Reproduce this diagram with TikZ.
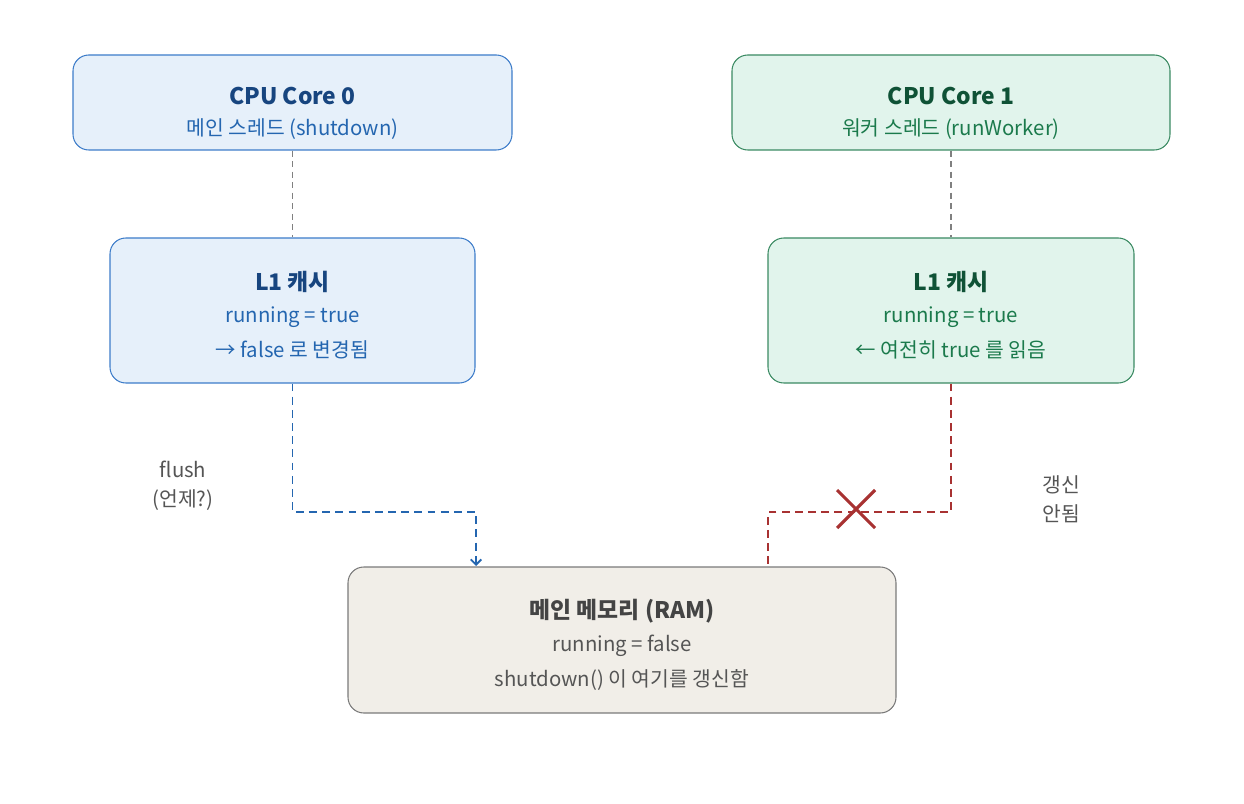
\documentclass[tikz,border=0pt]{standalone}
\usepackage{fontspec}
\setmainfont{Noto Sans CJK KR}
\usepackage{tikz}
\usetikzlibrary{arrows.meta, positioning}
\definecolor{bluefill}{HTML}{E6F0FA}
\definecolor{blueline}{HTML}{3D7CC9}
\definecolor{bluetitle}{HTML}{17457F}
\definecolor{bluetext}{HTML}{2466B0}
\definecolor{greenfill}{HTML}{E1F4EC}
\definecolor{greenline}{HTML}{3A8A62}
\definecolor{greentitle}{HTML}{0F5236}
\definecolor{greentext}{HTML}{1B7A4C}
\definecolor{ramfill}{HTML}{F1EEE8}
\definecolor{ramline}{HTML}{7A7A7A}
\definecolor{ramtitle}{HTML}{444444}
\definecolor{ramtext}{HTML}{555555}
\definecolor{nogo}{HTML}{A83232}
\tikzstyle{box} = [rectangle, rounded corners=9pt, line width=0.6pt]
\tikzstyle{title} = [font=\fontsize{13}{15}\selectfont\bfseries]
\tikzstyle{sub} = [font=\fontsize{11.6}{14}\selectfont]
\tikzstyle{note} = [font=\fontsize{11.6}{16.5}\selectfont, text=ramtext, align=center]
\tikzstyle{link} = [draw=gray, line width=0.6pt, dash pattern=on 3.5pt off 2.5pt]
\tikzstyle{flow} = [line width=1.1pt, dash pattern=on 4.5pt off 3pt]

\begin{document}
\begin{tikzpicture}[x=0.02cm, y=-0.02cm]
				\useasboundingbox (0, 0) rectangle (1244, 804);

				% core 0
				\node (Core0) [box, draw=blueline, fill=bluefill, minimum width=439*0.02cm, minimum height=95*0.02cm] at (292.5, 102.5) {};
				\node (Core0Title) [title, text=bluetitle] at (292.5, 96) {CPU Core 0};
				\node (Core0Sub) [sub, text=bluetext] at (292.5, 129) {메인 스레드 (shutdown)};

				% core 1
				\node (Core1) [box, draw=greenline, fill=greenfill, minimum width=438*0.02cm, minimum height=95*0.02cm] at (951, 102.5) {};
				\node (Core1Title) [title, text=greentitle] at (951, 96) {CPU Core 1};
				\node (Core1Sub) [sub, text=greentext] at (951, 129) {워커 스레드 (runWorker)};

				% left cache
				\node (Cache0) [box, draw=blueline, fill=bluefill, minimum width=365*0.02cm, minimum height=145*0.02cm] at (292.5, 310.5) {};
				\node (Cache0Title) [title, text=bluetitle] at (292.5, 282) {L1 캐시};
				\node (Cache0Val) [sub, text=bluetext] at (292.5, 317) {running = true};
				\node (Cache0New) [sub, text=bluetext] at (292.5, 350) {→ false 로 변경됨};

				% right cache
				\node (Cache1) [box, draw=greenline, fill=greenfill, minimum width=366*0.02cm, minimum height=145*0.02cm] at (951, 310.5) {};
				\node (Cache1Title) [title, text=greentitle] at (951, 282) {L1 캐시};
				\node (Cache1Val) [sub, text=greentext] at (951, 317) {running = true};
				\node (Cache1Old) [sub, text=greentext] at (951, 350) {← 여전히 true 를 읽음};

				% main memory
				\node (Ram) [box, draw=ramline, fill=ramfill, minimum width=548*0.02cm, minimum height=146*0.02cm] at (622, 640) {};
				\node (RamTitle) [title, text=ramtitle] at (622, 611) {메인 메모리 (RAM)};
				\node (RamVal) [sub, text=ramtext] at (622, 646) {running = false};
				\node (RamNote) [sub, text=ramtext] at (622, 680) {shutdown() 이 여기를 갱신함};

				% core to cache
				\draw [link] (Core0) -- (Cache0);
				\draw [link] (Core1) -- (Cache1);

				% flush
				\coordinate (FlushIn) at (292.5, 512);
				\coordinate (FlushTurn) at (476, 512);
				\coordinate (FlushOut) at (476, 566);
				\draw [flow, draw=bluetext, -{Straight Barb[length=3pt, width=6pt]}] (Cache0) -- (FlushIn) -- (FlushTurn) -- (FlushOut);
				\node (Flush) [note] at (183, 486) {flush\\(언제?)};

				% no refresh
				\coordinate (StaleIn) at (951, 512);
				\coordinate (StaleTurn) at (768, 512);
				\coordinate (StaleOut) at (768, 566);
				\draw [flow, draw=nogo] (Cache1) -- (StaleIn) -- (StaleTurn) -- (StaleOut);
				\node (Cross) at (856, 509) {};
				\draw [nogo, line width=1.8pt] ([shift={(-19, -19)}]Cross.center) -- ([shift={(19, 19)}]Cross.center);
				\draw [nogo, line width=1.8pt] ([shift={(19, -19)}]Cross.center) -- ([shift={(-19, 19)}]Cross.center);
				\node (Stale) [note] at (1061, 499) {갱신\\안됨};
			\end{tikzpicture}
\end{document}
